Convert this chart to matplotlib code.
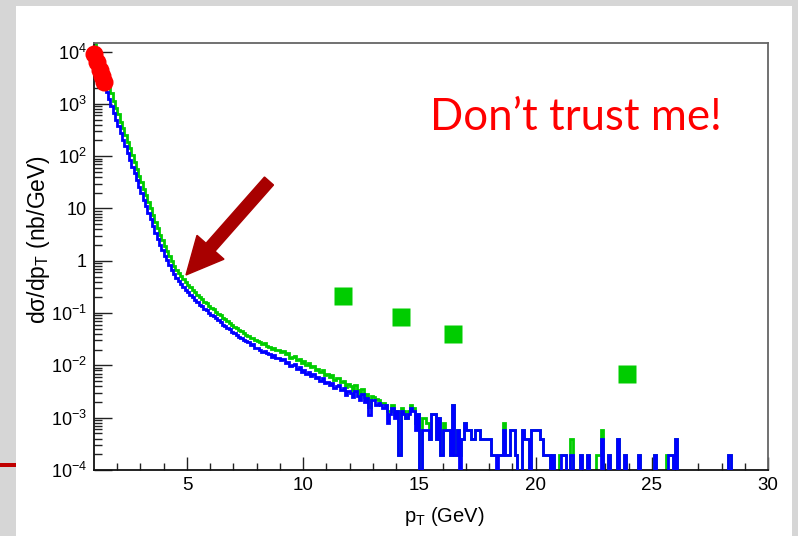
import numpy as np
import matplotlib
matplotlib.use("Agg")
import matplotlib.pyplot as plt
from matplotlib.patches import FancyArrow, Rectangle
from matplotlib.transforms import IdentityTransform
from matplotlib.ticker import FixedLocator, FixedFormatter, NullFormatter

plt.rcParams['font.family'] = ['Liberation Sans', 'DejaVu Sans']
plt.rcParams['mathtext.fontset'] = 'custom'
plt.rcParams['mathtext.rm'] = 'Liberation Sans'
plt.rcParams['mathtext.it'] = 'Liberation Sans:italic'

# ---------------- data ----------------
PT_MIN, PT_MAX, N_BINS = 1.0, 30.0, 290
UNIT = 1.94e-4   # value of one entry in the tail (nb/GeV)

# log10(dsigma/dpT) for bins 1.0 .. 12.9 GeV
blue_low_log = [
    3.88, 3.75, 3.61, 3.48, 3.35, 3.22, 3.09, 2.96, 2.83, 2.70,
    2.57, 2.44, 2.31, 2.19, 2.06, 1.93, 1.80, 1.67, 1.55, 1.42,
    1.29, 1.17, 1.04, 0.92, 0.79, 0.66, 0.54, 0.42, 0.31, 0.20,
    0.10, 0.01, -0.08, -0.17, -0.25, -0.33, -0.39, -0.44, -0.50, -0.55,
    -0.60, -0.65, -0.70, -0.74, -0.79, -0.84, -0.87, -0.92, -0.95, -0.99,
    -1.03, -1.06, -1.10, -1.14, -1.17, -1.22, -1.24, -1.29, -1.31, -1.36,
    -1.39, -1.41, -1.46, -1.47, -1.52, -1.54, -1.56, -1.61, -1.60, -1.66,
    -1.67, -1.70, -1.74, -1.72, -1.77, -1.78, -1.83, -1.80, -1.86, -1.85,
    -1.90, -1.88, -1.95, -1.93, -2.02, -2.00, -1.98, -2.06, -2.04, -2.12,
    -2.08, -2.16, -2.12, -2.20, -2.17, -2.24, -2.22, -2.30, -2.25, -2.34,
    -2.31, -2.38, -2.33, -2.44, -2.40, -2.38, -2.47, -2.43, -2.56, -2.49,
    -2.52, -2.60, -2.48, -2.58, -2.66, -2.55, -2.70, -2.62, -2.95, -2.66]

green_low_log = [
    4.17, 4.02, 3.88, 3.75, 3.61, 3.47, 3.33, 3.20, 3.06, 2.93,
    2.80, 2.66, 2.53, 2.41, 2.28, 2.15, 2.02, 1.89, 1.76, 1.63,
    1.50, 1.38, 1.25, 1.13, 1.00, 0.87, 0.74, 0.62, 0.50, 0.39,
    0.28, 0.18, 0.09, 0.00, -0.09, -0.17, -0.24, -0.29, -0.35, -0.41,
    -0.46, -0.51, -0.56, -0.60, -0.65, -0.70, -0.73, -0.78, -0.81, -0.86,
    -0.90, -0.93, -0.97, -1.01, -1.04, -1.09, -1.11, -1.16, -1.18, -1.23,
    -1.26, -1.28, -1.33, -1.34, -1.39, -1.41, -1.43, -1.48, -1.47, -1.52,
    -1.54, -1.56, -1.60, -1.58, -1.63, -1.64, -1.69, -1.66, -1.71, -1.70,
    -1.75, -1.73, -1.79, -1.77, -1.85, -1.83, -1.82, -1.89, -1.87, -1.95,
    -1.92, -1.99, -1.96, -2.03, -2.01, -2.08, -2.06, -2.13, -2.09, -2.18,
    -2.16, -2.22, -2.18, -2.28, -2.25, -2.24, -2.32, -2.29, -2.42, -2.36,
    -2.40, -2.47, -2.38, -2.47, -2.55, -2.46, -2.60, -2.55, -2.80, -2.58]

# entries per bin for bins 13.0 .. 29.9 GeV
blue_tail_counts = [
    11, 9, 10, 9, 8, 9, 4, 6, 8, 5,
    7, 1, 7, 6, 5, 6, 8, 7, 3, 6,
    0, 3, 3, 3, 2, 6, 6, 2, 5, 1,
    3, 3, 3, 1, 9, 1, 3, 0, 2, 4,
    3, 3, 2, 2, 3, 3, 2, 2, 2, 2,
    2, 1, 1, 0, 1, 1, 3, 1, 1, 3,
    3, 1, 0, 0, 3, 2, 2, 0, 3, 3,
    3, 3, 2, 1, 1, 1, 0, 1, 0, 0,
    0, 1, 1, 0, 0, 1, 0, 0, 0, 1,
    0, 0, 1, 0, 0, 0, 0, 0, 2, 0,
    0, 1, 0, 0, 0, 2, 0, 0, 1, 0,
    0, 0, 0, 0, 1, 0, 0, 0, 0, 0,
    0, 1, 0, 0, 0, 0, 0, 1, 1, 0,
    2, 0, 0, 0, 0, 0, 0, 0, 0, 0,
    0, 0, 0, 0, 0, 0, 0, 0, 0, 0,
    0, 0, 0, 1, 0, 0, 0, 0, 0, 0,
    0, 0, 0, 0, 0, 0, 0, 0, 0, 0]

green_tail_counts = [
    13, 12, 11, 10, 10, 9, 7, 7, 9, 6,
    7, 1, 8, 7, 5, 7, 9, 8, 4, 6,
    0, 5, 5, 4, 2, 6, 6, 2, 5, 1,
    4, 3, 3, 1, 9, 1, 3, 1, 2, 4,
    3, 3, 2, 2, 3, 3, 2, 2, 2, 2,
    2, 1, 1, 1, 1, 1, 4, 1, 1, 3,
    3, 1, 0, 0, 3, 2, 2, 0, 3, 3,
    3, 3, 2, 1, 1, 1, 0, 1, 0, 0,
    1, 1, 1, 0, 0, 2, 0, 0, 0, 1,
    0, 0, 1, 0, 0, 0, 1, 1, 3, 0,
    0, 1, 0, 0, 0, 2, 0, 0, 1, 0,
    0, 0, 0, 0, 1, 0, 0, 0, 0, 0,
    0, 1, 0, 0, 0, 0, 1, 1, 1, 0,
    2, 0, 0, 0, 0, 0, 0, 0, 0, 0,
    0, 0, 0, 0, 0, 0, 0, 0, 0, 0,
    0, 0, 0, 1, 0, 0, 0, 0, 0, 0,
    0, 0, 0, 0, 0, 0, 0, 0, 0, 0]

# red data points (low pT) and green squares
red_pt = [0.98, 1.13, 1.26, 1.34, 1.45]
red_val = [9000, 6300, 4470, 3390, 2630]
sq_pt = [11.73, 14.22, 16.45, 23.93]
sq_val = [0.217, 0.0835, 0.040, 0.0068]

y_tick_vals = [1e-4, 1e-3, 1e-2, 1e-1, 1, 10, 1e2, 1e3, 1e4]
y_tick_labels = ['10$^{-4}$', '10$^{-3}$', '10$^{-2}$', '10$^{-1}$', '1', '10',
                 '10$^{2}$', '10$^{3}$', '10$^{4}$']
x_tick_vals = [5, 10, 15, 20, 25, 30]

# ---------------- figure ----------------
W, H = 798, 536
fig = plt.figure(figsize=(W / 100, H / 100), dpi=100)
fig.patch.set_facecolor('#d6d6d6')
fig.add_artist(Rectangle((16 / W, 0), (W - 16 - 6) / W, (H - 6) / H,
                         transform=fig.transFigure, facecolor='white',
                         edgecolor='none', zorder=-2))
fig.add_artist(Rectangle((0, (H - 467) / H), 16 / W, 4 / H,
                         transform=fig.transFigure, facecolor='#c00000',
                         edgecolor='none', zorder=-1))

ax = fig.add_axes([94 / W, (H - 470) / H, (768 - 94) / W, (470 - 43) / H])
ax.set_facecolor('white')

edges = np.linspace(PT_MIN, PT_MAX, N_BINS + 1)
blue = np.concatenate([10.0 ** np.array(blue_low_log), np.array(blue_tail_counts) * UNIT])
green = np.concatenate([10.0 ** np.array(green_low_log), np.array(green_tail_counts) * UNIT])

ax.stairs(green, edges, color='#00cc00', lw=2.0, baseline=None, zorder=2)
ax.stairs(blue, edges, color='#0000ff', lw=2.0, baseline=None, zorder=3)
ax.plot(red_pt, red_val, 'o', color='#ff0000', ms=13, mec='none', clip_on=False, zorder=5)
ax.plot(sq_pt, sq_val, 's', color='#00cc00', ms=13, mec='none', zorder=4)

ax.set_yscale('log')
ax.set_xlim(PT_MIN, PT_MAX)
ax.set_ylim(1e-4, 1.46e4)

ax.xaxis.set_major_locator(FixedLocator(x_tick_vals))
ax.xaxis.set_minor_locator(FixedLocator(np.arange(2, 30)))
ax.yaxis.set_major_locator(FixedLocator(y_tick_vals))
ax.yaxis.set_major_formatter(FixedFormatter(y_tick_labels))
minor_y = [m * 10.0 ** e for e in range(-4, 4) for m in range(2, 10)]
ax.yaxis.set_minor_locator(FixedLocator(minor_y))
ax.yaxis.set_minor_formatter(NullFormatter())

ax.tick_params(which='both', direction='in', top=False, right=False, color='#222222')
ax.tick_params(axis='x', which='major', length=9.5, width=1.0, labelsize=13.5, pad=5)
ax.tick_params(axis='x', which='minor', length=4.8, width=1.0)
ax.tick_params(axis='y', which='major', length=13, width=1.0, labelsize=13, pad=5)
ax.tick_params(axis='y', which='minor', length=6, width=1.0)

for s in ['left', 'bottom']:
    ax.spines[s].set_color('#111111')
    ax.spines[s].set_linewidth(1.3)
for s in ['top', 'right']:
    ax.spines[s].set_color('#666666')
    ax.spines[s].set_linewidth(1.3)

fig.text(444 / W, (H - 517) / H, 'p$_\\mathrm{T}$ (GeV)', ha='center', va='center',
         fontsize=14.5)
fig.text(39 / W, (H - 240) / H, 'dσ/dp$_\\mathrm{T}$ (nb/GeV)', ha='center', va='center',
         rotation=90, fontsize=16.5)

fig.text(430 / W, (H - 130) / H, 'Don’t trust me!', ha='left', va='baseline',
         fontsize=31.5, color='#ff0000', family=['Lato', 'DejaVu Sans'])

arrow = FancyArrow(269, H - 181, 186 - 269, (H - 275) - (H - 181), width=12,
                   head_width=36, head_length=37, length_includes_head=True,
                   color='#a80000', transform=IdentityTransform())
fig.add_artist(arrow)

fig.savefig('out.png', dpi=100, facecolor=fig.get_facecolor())
